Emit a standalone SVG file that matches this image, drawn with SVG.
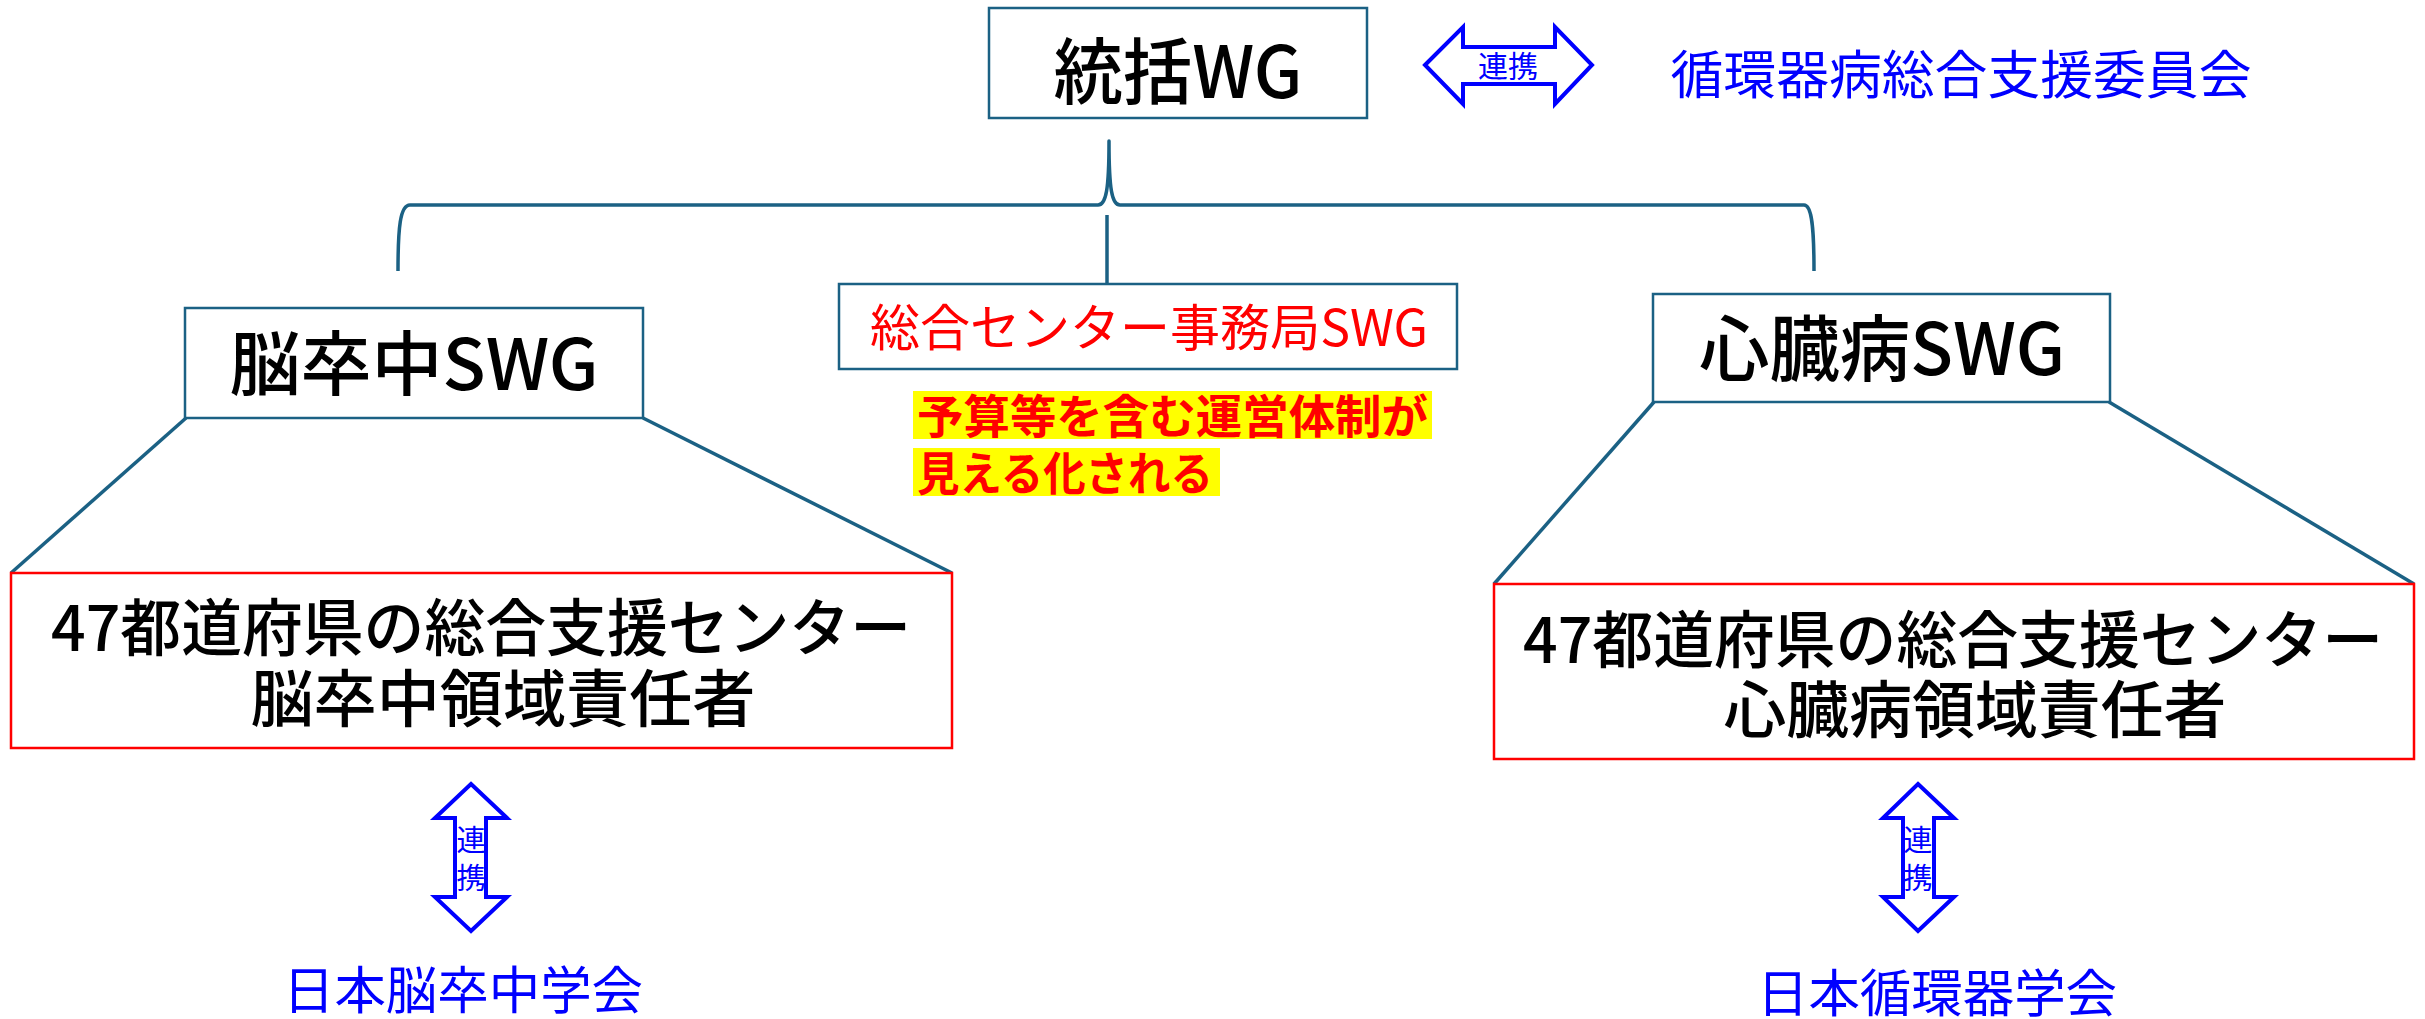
<svg xmlns="http://www.w3.org/2000/svg" width="2425" height="1019" viewBox="0 0 2425 1019">
<style>
text{font-family:"Noto Sans CJK JP","Noto Sans CJK SC",sans-serif;}
.tbox{fill:#fff;stroke:#1b6184;stroke-width:2.5;}
.rbox{fill:#fff;stroke:#ff0000;stroke-width:2.5;}
.conn{fill:none;stroke:#1b6184;stroke-width:3.5;stroke-linejoin:round;}
.arrow{fill:#fff;stroke:#0000ff;stroke-width:4;stroke-linejoin:miter;}
.blk{fill:#000;text-anchor:middle;font-weight:500;}
.blue{fill:#0000ff;text-anchor:middle;}
.red{fill:#ff0000;}
</style>
<rect width="2425" height="1019" fill="#fff"/>
<g id="connectors">
<path class="conn" d="M398,271 C398,228 400,205 410,205 L1098,205 C1106,205 1109,190 1109,141 C1109,190 1112,205 1120,205 L1804,205 C1812,205 1814,228 1814,271"/>
<line class="conn" x1="1107" y1="215" x2="1107" y2="283"/>
<line class="conn" x1="186" y1="418" x2="11" y2="573"/>
<line class="conn" x1="643" y1="418" x2="952" y2="573"/>
<line class="conn" x1="1654" y1="402" x2="1494" y2="584"/>
<line class="conn" x1="2109" y1="402" x2="2414" y2="584"/>
</g>
<g id="n-tokatsu">
<rect class="tbox" x="989" y="8" width="378" height="110"/>
<text class="blk" x="1178" y="98" font-size="72" textLength="249" lengthAdjust="spacingAndGlyphs">統括WG</text>
</g>
<g id="n-renkei-top">
<polygon class="arrow" points="1425,65 1463,27 1463,47 1555,47 1555,27 1592,65 1555,104 1555,84 1463,84 1463,104"/>
<text class="blue" x="1508" y="77" font-size="30">連携</text>
</g>
<g id="n-iinkai">
<text class="blue" x="1961" y="94" font-size="52" textLength="581" lengthAdjust="spacingAndGlyphs">循環器病総合支援委員会</text>
</g>
<g id="n-noso-swg">
<rect class="tbox" x="185" y="308" width="458" height="110"/>
<text class="blk" x="414" y="390" font-size="70" textLength="369" lengthAdjust="spacingAndGlyphs">脳卒中SWG</text>
</g>
<g id="n-jimukyoku">
<rect class="tbox" x="839" y="284" width="618" height="85"/>
<text class="red" x="1149" y="346" font-size="50" text-anchor="middle" textLength="558" lengthAdjust="spacingAndGlyphs">総合センター事務局SWG</text>
</g>
<g id="n-note">
<rect x="913" y="391" width="519" height="48" fill="#ffff00"/>
<rect x="913" y="448" width="307" height="48" fill="#ffff00"/>
<text class="red" x="917" y="433" font-size="46" font-weight="bold" textLength="511" lengthAdjust="spacingAndGlyphs">予算等を含む運営体制が</text>
<text class="red" x="917" y="490" font-size="46" font-weight="bold" textLength="296" lengthAdjust="spacingAndGlyphs">見える化される</text>
</g>
<g id="n-shinzo-swg">
<rect class="tbox" x="1653" y="294" width="457" height="108"/>
<text class="blk" x="1882" y="375" font-size="72" textLength="366" lengthAdjust="spacingAndGlyphs">心臓病SWG</text>
</g>
<g id="n-noso-center">
<rect class="rbox" x="11" y="573" width="941" height="175"/>
<text class="blk" x="481" y="651" font-size="62" textLength="860" lengthAdjust="spacingAndGlyphs">47都道府県の総合支援センター</text>
<text class="blk" x="503" y="722" font-size="62" textLength="505" lengthAdjust="spacingAndGlyphs">脳卒中領域責任者</text>
</g>
<g id="n-shinzo-center">
<rect class="rbox" x="1494" y="584" width="920" height="175"/>
<text class="blk" x="1953" y="663" font-size="62" textLength="860" lengthAdjust="spacingAndGlyphs">47都道府県の総合支援センター</text>
<text class="blk" x="1975" y="733" font-size="62" textLength="503" lengthAdjust="spacingAndGlyphs">心臓病領域責任者</text>
</g>
<g id="n-renkei-left">
<polygon class="arrow" points="471,784 507,818 486,818 486,897 507,897 471,931 435,897 455,897 455,818 435,818"/>
<text class="blue" x="471" y="851" font-size="29">連</text>
<text class="blue" x="471" y="889" font-size="29">携</text>
</g>
<g id="n-renkei-right">
<polygon class="arrow" points="1918,784 1954,818 1934,818 1934,897 1954,897 1918,931 1883,897 1903,897 1903,818 1883,818"/>
<text class="blue" x="1918" y="851" font-size="29">連</text>
<text class="blue" x="1918" y="889" font-size="29">携</text>
</g>
<g id="n-gakkai-noso">
<text class="blue" x="463" y="1009" font-size="51" textLength="360" lengthAdjust="spacingAndGlyphs">日本脳卒中学会</text>
</g>
<g id="n-gakkai-junkan">
<text class="blue" x="1937" y="1012" font-size="51" textLength="360" lengthAdjust="spacingAndGlyphs">日本循環器学会</text>
</g>
</svg>
